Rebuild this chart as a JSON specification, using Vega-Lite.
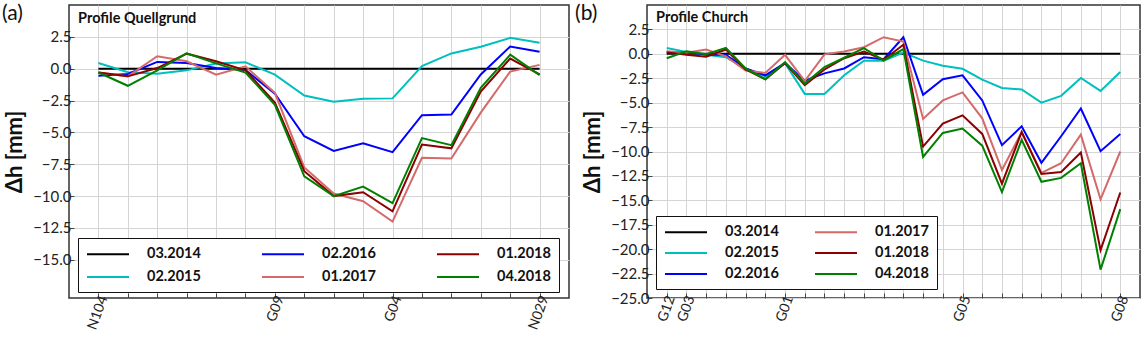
{
 "$schema": "https://vega.github.io/schema/vega-lite/v6.json",
 "padding": {"left": 1, "top": 2, "right": 0, "bottom": 0},
 "config": {
  "font": "Lato",
  "view": {"stroke": "#333", "strokeWidth": 1.5},
  "axis": {"labelFont": "Lato", "labelFontSize": 15, "labelColor": "#222", "gridColor": "#d5d5d5", "gridWidth": 1, "domain": false, "tickColor": "#444", "tickSize": -5, "tickCount": 100, "titleFont": "Lato", "titleFontSize": 22, "titleFontWeight": "bold", "titleColor": "#111", "labelOverlap": false},
  "legend": {"orient": "none", "title": null, "symbolType": "M-1,0H5", "symbolSize": 196, "symbolStrokeWidth": 2, "labelFont": "Lato", "labelFontSize": 14.5, "labelFontWeight": "bold", "labelColor": "#111", "labelOffset": 45, "padding": 8, "strokeColor": "#111", "fillColor": "white", "cornerRadius": 0, "labelLimit": 200}
 },
 "datasets": {
  "quell": [
   {"s":"03.2014","i":0,"v":0},{"s":"03.2014","i":1,"v":0},{"s":"03.2014","i":2,"v":0},{"s":"03.2014","i":3,"v":0},{"s":"03.2014","i":4,"v":0},{"s":"03.2014","i":5,"v":0},{"s":"03.2014","i":6,"v":0},{"s":"03.2014","i":7,"v":0},{"s":"03.2014","i":8,"v":0},{"s":"03.2014","i":9,"v":0},{"s":"03.2014","i":10,"v":0},{"s":"03.2014","i":11,"v":0},{"s":"03.2014","i":12,"v":0},{"s":"03.2014","i":13,"v":0},{"s":"03.2014","i":14,"v":0},{"s":"03.2014","i":15,"v":0},
   {"s":"02.2015","i":0,"v":0.45},{"s":"02.2015","i":1,"v":-0.28},{"s":"02.2015","i":2,"v":-0.39},{"s":"02.2015","i":3,"v":-0.13},{"s":"02.2015","i":4,"v":0.4},{"s":"02.2015","i":5,"v":0.5},{"s":"02.2015","i":6,"v":-0.47},{"s":"02.2015","i":7,"v":-2.1},{"s":"02.2015","i":8,"v":-2.6},{"s":"02.2015","i":9,"v":-2.35},{"s":"02.2015","i":10,"v":-2.33},{"s":"02.2015","i":11,"v":0.2},{"s":"02.2015","i":12,"v":1.2},{"s":"02.2015","i":13,"v":1.72},{"s":"02.2015","i":14,"v":2.42},{"s":"02.2015","i":15,"v":2.03},
   {"s":"02.2016","i":0,"v":-0.55},{"s":"02.2016","i":1,"v":-0.42},{"s":"02.2016","i":2,"v":0.53},{"s":"02.2016","i":3,"v":0.45},{"s":"02.2016","i":4,"v":0.05},{"s":"02.2016","i":5,"v":-0.1},{"s":"02.2016","i":6,"v":-1.97},{"s":"02.2016","i":7,"v":-5.3},{"s":"02.2016","i":8,"v":-6.45},{"s":"02.2016","i":9,"v":-5.85},{"s":"02.2016","i":10,"v":-6.55},{"s":"02.2016","i":11,"v":-3.65},{"s":"02.2016","i":12,"v":-3.6},{"s":"02.2016","i":13,"v":-0.45},{"s":"02.2016","i":14,"v":1.74},{"s":"02.2016","i":15,"v":1.33},
   {"s":"01.2017","i":0,"v":-0.3},{"s":"01.2017","i":1,"v":-0.6},{"s":"01.2017","i":2,"v":0.98},{"s":"01.2017","i":3,"v":0.58},{"s":"01.2017","i":4,"v":-0.47},{"s":"01.2017","i":5,"v":0.19},{"s":"01.2017","i":6,"v":-1.9},{"s":"01.2017","i":7,"v":-7.75},{"s":"01.2017","i":8,"v":-9.8},{"s":"01.2017","i":9,"v":-10.4},{"s":"01.2017","i":10,"v":-12.0},{"s":"01.2017","i":11,"v":-7.0},{"s":"01.2017","i":12,"v":-7.05},{"s":"01.2017","i":13,"v":-3.45},{"s":"01.2017","i":14,"v":-0.23},{"s":"01.2017","i":15,"v":0.3},
   {"s":"01.2018","i":0,"v":-0.3},{"s":"01.2018","i":1,"v":-0.6},{"s":"01.2018","i":2,"v":0.05},{"s":"01.2018","i":3,"v":1.18},{"s":"01.2018","i":4,"v":0.58},{"s":"01.2018","i":5,"v":-0.13},{"s":"01.2018","i":6,"v":-2.65},{"s":"01.2018","i":7,"v":-8.05},{"s":"01.2018","i":8,"v":-10.0},{"s":"01.2018","i":9,"v":-9.7},{"s":"01.2018","i":10,"v":-11.2},{"s":"01.2018","i":11,"v":-5.95},{"s":"01.2018","i":12,"v":-6.25},{"s":"01.2018","i":13,"v":-1.8},{"s":"01.2018","i":14,"v":0.8},{"s":"01.2018","i":15,"v":-0.45},
   {"s":"04.2018","i":0,"v":-0.3},{"s":"04.2018","i":1,"v":-1.34},{"s":"04.2018","i":2,"v":-0.13},{"s":"04.2018","i":3,"v":1.2},{"s":"04.2018","i":4,"v":0.42},{"s":"04.2018","i":5,"v":-0.3},{"s":"04.2018","i":6,"v":-2.83},{"s":"04.2018","i":7,"v":-8.45},{"s":"04.2018","i":8,"v":-10.0},{"s":"04.2018","i":9,"v":-9.25},{"s":"04.2018","i":10,"v":-10.55},{"s":"04.2018","i":11,"v":-5.45},{"s":"04.2018","i":12,"v":-6.0},{"s":"04.2018","i":13,"v":-1.5},{"s":"04.2018","i":14,"v":1.1},{"s":"04.2018","i":15,"v":-0.5}
  ],
  "church": [
   {"s":"03.2014","i":0,"v":0},{"s":"03.2014","i":1,"v":0},{"s":"03.2014","i":2,"v":0},{"s":"03.2014","i":3,"v":0},{"s":"03.2014","i":4,"v":0},{"s":"03.2014","i":5,"v":0},{"s":"03.2014","i":6,"v":0},{"s":"03.2014","i":7,"v":0},{"s":"03.2014","i":8,"v":0},{"s":"03.2014","i":9,"v":0},{"s":"03.2014","i":10,"v":0},{"s":"03.2014","i":11,"v":0},{"s":"03.2014","i":12,"v":0},{"s":"03.2014","i":13,"v":0},{"s":"03.2014","i":14,"v":0},{"s":"03.2014","i":15,"v":0},{"s":"03.2014","i":16,"v":0},{"s":"03.2014","i":17,"v":0},{"s":"03.2014","i":18,"v":0},{"s":"03.2014","i":19,"v":0},{"s":"03.2014","i":20,"v":0},{"s":"03.2014","i":21,"v":0},{"s":"03.2014","i":22,"v":0},{"s":"03.2014","i":23,"v":0},
   {"s":"02.2015","i":0,"v":0.6},{"s":"02.2015","i":1,"v":0.2},{"s":"02.2015","i":2,"v":-0.1},{"s":"02.2015","i":3,"v":-0.35},{"s":"02.2015","i":4,"v":-1.5},{"s":"02.2015","i":5,"v":-2.3},{"s":"02.2015","i":6,"v":-0.95},{"s":"02.2015","i":7,"v":-4.1},{"s":"02.2015","i":8,"v":-4.1},{"s":"02.2015","i":9,"v":-2.2},{"s":"02.2015","i":10,"v":-0.7},{"s":"02.2015","i":11,"v":-0.7},{"s":"02.2015","i":12,"v":0.13},{"s":"02.2015","i":13,"v":-0.7},{"s":"02.2015","i":14,"v":-1.22},{"s":"02.2015","i":15,"v":-1.53},{"s":"02.2015","i":16,"v":-2.65},{"s":"02.2015","i":17,"v":-3.5},{"s":"02.2015","i":18,"v":-3.65},{"s":"02.2015","i":19,"v":-5.0},{"s":"02.2015","i":20,"v":-4.3},{"s":"02.2015","i":21,"v":-2.47},{"s":"02.2015","i":22,"v":-3.8},{"s":"02.2015","i":23,"v":-1.86},
   {"s":"02.2016","i":0,"v":0.2},{"s":"02.2016","i":1,"v":0.2},{"s":"02.2016","i":2,"v":-0.1},{"s":"02.2016","i":3,"v":-0.1},{"s":"02.2016","i":4,"v":-1.5},{"s":"02.2016","i":5,"v":-2.2},{"s":"02.2016","i":6,"v":-0.95},{"s":"02.2016","i":7,"v":-2.75},{"s":"02.2016","i":8,"v":-2.0},{"s":"02.2016","i":9,"v":-1.5},{"s":"02.2016","i":10,"v":-0.35},{"s":"02.2016","i":11,"v":-0.55},{"s":"02.2016","i":12,"v":1.7},{"s":"02.2016","i":13,"v":-4.2},{"s":"02.2016","i":14,"v":-2.6},{"s":"02.2016","i":15,"v":-2.2},{"s":"02.2016","i":16,"v":-4.77},{"s":"02.2016","i":17,"v":-9.35},{"s":"02.2016","i":18,"v":-7.42},{"s":"02.2016","i":19,"v":-11.16},{"s":"02.2016","i":20,"v":-8.44},{"s":"02.2016","i":21,"v":-5.6},{"s":"02.2016","i":22,"v":-9.97},{"s":"02.2016","i":23,"v":-8.2},
   {"s":"01.2017","i":0,"v":0.27},{"s":"01.2017","i":1,"v":0.1},{"s":"01.2017","i":2,"v":0.45},{"s":"01.2017","i":3,"v":-0.25},{"s":"01.2017","i":4,"v":-1.7},{"s":"01.2017","i":5,"v":-1.95},{"s":"01.2017","i":6,"v":-0.1},{"s":"01.2017","i":7,"v":-2.8},{"s":"01.2017","i":8,"v":-0.05},{"s":"01.2017","i":9,"v":0.25},{"s":"01.2017","i":10,"v":0.68},{"s":"01.2017","i":11,"v":1.7},{"s":"01.2017","i":12,"v":1.25},{"s":"01.2017","i":13,"v":-6.67},{"s":"01.2017","i":14,"v":-4.77},{"s":"01.2017","i":15,"v":-3.95},{"s":"01.2017","i":16,"v":-6.6},{"s":"01.2017","i":17,"v":-11.9},{"s":"01.2017","i":18,"v":-8.0},{"s":"01.2017","i":19,"v":-12.2},{"s":"01.2017","i":20,"v":-11.2},{"s":"01.2017","i":21,"v":-8.27},{"s":"01.2017","i":22,"v":-14.9},{"s":"01.2017","i":23,"v":-10.0},
   {"s":"01.2018","i":0,"v":0.15},{"s":"01.2018","i":1,"v":-0.1},{"s":"01.2018","i":2,"v":-0.3},{"s":"01.2018","i":3,"v":0.45},{"s":"01.2018","i":4,"v":-1.6},{"s":"01.2018","i":5,"v":-2.6},{"s":"01.2018","i":6,"v":-0.95},{"s":"01.2018","i":7,"v":-3.2},{"s":"01.2018","i":8,"v":-1.6},{"s":"01.2018","i":9,"v":-0.45},{"s":"01.2018","i":10,"v":0.24},{"s":"01.2018","i":11,"v":-0.6},{"s":"01.2018","i":12,"v":0.93},{"s":"01.2018","i":13,"v":-9.5},{"s":"01.2018","i":14,"v":-7.15},{"s":"01.2018","i":15,"v":-6.3},{"s":"01.2018","i":16,"v":-8.2},{"s":"01.2018","i":17,"v":-13.3},{"s":"01.2018","i":18,"v":-8.0},{"s":"01.2018","i":19,"v":-12.3},{"s":"01.2018","i":20,"v":-12.1},{"s":"01.2018","i":21,"v":-10.1},{"s":"01.2018","i":22,"v":-20.1},{"s":"01.2018","i":23,"v":-14.2},
   {"s":"04.2018","i":0,"v":-0.45},{"s":"04.2018","i":1,"v":0.25},{"s":"04.2018","i":2,"v":-0.05},{"s":"04.2018","i":3,"v":0.6},{"s":"04.2018","i":4,"v":-1.5},{"s":"04.2018","i":5,"v":-2.6},{"s":"04.2018","i":6,"v":-0.85},{"s":"04.2018","i":7,"v":-3.05},{"s":"04.2018","i":8,"v":-1.35},{"s":"04.2018","i":9,"v":-0.4},{"s":"04.2018","i":10,"v":0.58},{"s":"04.2018","i":11,"v":-0.68},{"s":"04.2018","i":12,"v":0.48},{"s":"04.2018","i":13,"v":-10.55},{"s":"04.2018","i":14,"v":-8.1},{"s":"04.2018","i":15,"v":-7.65},{"s":"04.2018","i":16,"v":-9.4},{"s":"04.2018","i":17,"v":-14.15},{"s":"04.2018","i":18,"v":-8.8},{"s":"04.2018","i":19,"v":-13.1},{"s":"04.2018","i":20,"v":-12.7},{"s":"04.2018","i":21,"v":-11.2},{"s":"04.2018","i":22,"v":-22.1},{"s":"04.2018","i":23,"v":-15.9}
  ]
 },
 "spacing": 4,
 "resolve": {"scale": {"color": "independent", "x": "independent", "y": "independent"}, "legend": {"color": "independent"}},
 "hconcat": [
  {
   "width": 500, "height": 293,
   "layer": [
    {
     "data": {"name": "quell"},
     "mark": {"type": "line", "strokeWidth": 2, "clip": true},
     "encoding": {
      "x": {"field": "i", "type": "quantitative", "scale": {"domain": [-1, 16], "nice": false, "zero": false},
            "axis": {"title": null, "values": [0,1,2,3,4,5,6,7,8,9,10,11,12,13,14,15], "tickCount": 100, "labelExpr": "datum.value == 0 ? 'N104' : datum.value == 6 ? 'G09' : datum.value == 10 ? 'G04' : datum.value == 15 ? 'N029' : ''", "labelAngle": -70, "labelAlign": "right", "labelBaseline": "middle", "labelFontSize": 14, "labelPadding": 3, "labelOffset": 5, "labelFlush": false, "labelOverlap": false, "grid": true}},
      "y": {"field": "v", "type": "quantitative", "scale": {"domain": [-18, 5], "nice": false, "zero": false},
            "axis": {"title": "Δh [mm]", "values": [-15, -12.5, -10, -7.5, -5, -2.5, 0, 2.5], "tickCount": 100, "format": ".1f", "labelPadding": 3, "titlePadding": 6, "grid": true}},
      "color": {"field": "s", "type": "nominal",
                "scale": {"domain": ["03.2014", "02.2015", "02.2016", "01.2017", "01.2018", "04.2018"], "range": ["#000000", "#00bfbf", "#0000ff", "#d46a6a", "#8b0000", "#008000"]},
                "legend": {"legendX": 9, "legendY": 233, "columns": 3, "columnPadding": 57, "rowPadding": 8}}
     }
    },
    {
     "data": {"values": [{"t": "Profile Quellgrund"}]},
     "mark": {"type": "text", "align": "left", "baseline": "alphabetic", "fontSize": 14.5, "fontWeight": "bold", "font": "Lato", "color": "#111"},
     "encoding": {"x": {"datum": -0.69}, "y": {"datum": 3.55}, "text": {"field": "t"}}
    },
    {
     "data": {"values": [{"t": "(a)"}]},
     "mark": {"type": "text", "align": "left", "baseline": "middle", "fontSize": 21, "font": "Lato", "color": "#111"},
     "encoding": {"x": {"datum": -3.28}, "y": {"datum": 4.29}, "text": {"field": "t"}}
    }
   ]
  },
  {
   "width": 493, "height": 293,
   "layer": [
    {
     "data": {"name": "church"},
     "mark": {"type": "line", "strokeWidth": 2, "clip": true},
     "encoding": {
      "x": {"field": "i", "type": "quantitative", "scale": {"domain": [-1, 24], "nice": false, "zero": false},
            "axis": {"title": null, "values": [0,1,2,3,4,5,6,7,8,9,10,11,12,13,14,15,16,17,18,19,20,21,22,23], "tickCount": 100, "labelExpr": "datum.value == 0 ? 'G12' : datum.value == 1 ? 'G03' : datum.value == 6 ? 'G01' : datum.value == 15 ? 'G05' : datum.value == 23 ? 'G08' : ''", "labelAngle": -70, "labelAlign": "right", "labelBaseline": "middle", "labelFontSize": 14, "labelPadding": 3, "labelOffset": 4, "labelFlush": false, "labelOverlap": false, "grid": true}},
      "y": {"field": "v", "type": "quantitative", "scale": {"domain": [-25, 5], "nice": false, "zero": false},
            "axis": {"title": "Δh [mm]", "values": [-25, -22.5, -20, -17.5, -15, -12.5, -10, -7.5, -5, -2.5, 0, 2.5], "tickCount": 100, "format": ".1f", "labelPadding": 3, "titlePadding": 6, "grid": true}},
      "color": {"field": "s", "type": "nominal",
                "scale": {"domain": ["03.2014", "02.2015", "02.2016", "01.2017", "01.2018", "04.2018"], "range": ["#000000", "#00bfbf", "#0000ff", "#d46a6a", "#8b0000", "#008000"]},
                "legend": {"legendX": 9, "legendY": 211, "columns": 2, "columnPadding": 32, "rowPadding": 6}}
     }
    },
    {
     "data": {"values": [{"t": "Profile Church"}]},
     "mark": {"type": "text", "align": "left", "baseline": "alphabetic", "fontSize": 14.5, "fontWeight": "bold", "font": "Lato", "color": "#111"},
     "encoding": {"x": {"datum": -0.54}, "y": {"datum": 3.26}, "text": {"field": "t"}}
    },
    {
     "data": {"values": [{"t": "(b)"}]},
     "mark": {"type": "text", "align": "left", "baseline": "middle", "fontSize": 21, "font": "Lato", "color": "#111"},
     "encoding": {"x": {"datum": -4.65}, "y": {"datum": 4.08}, "text": {"field": "t"}}
    }
   ]
  }
 ]
}
